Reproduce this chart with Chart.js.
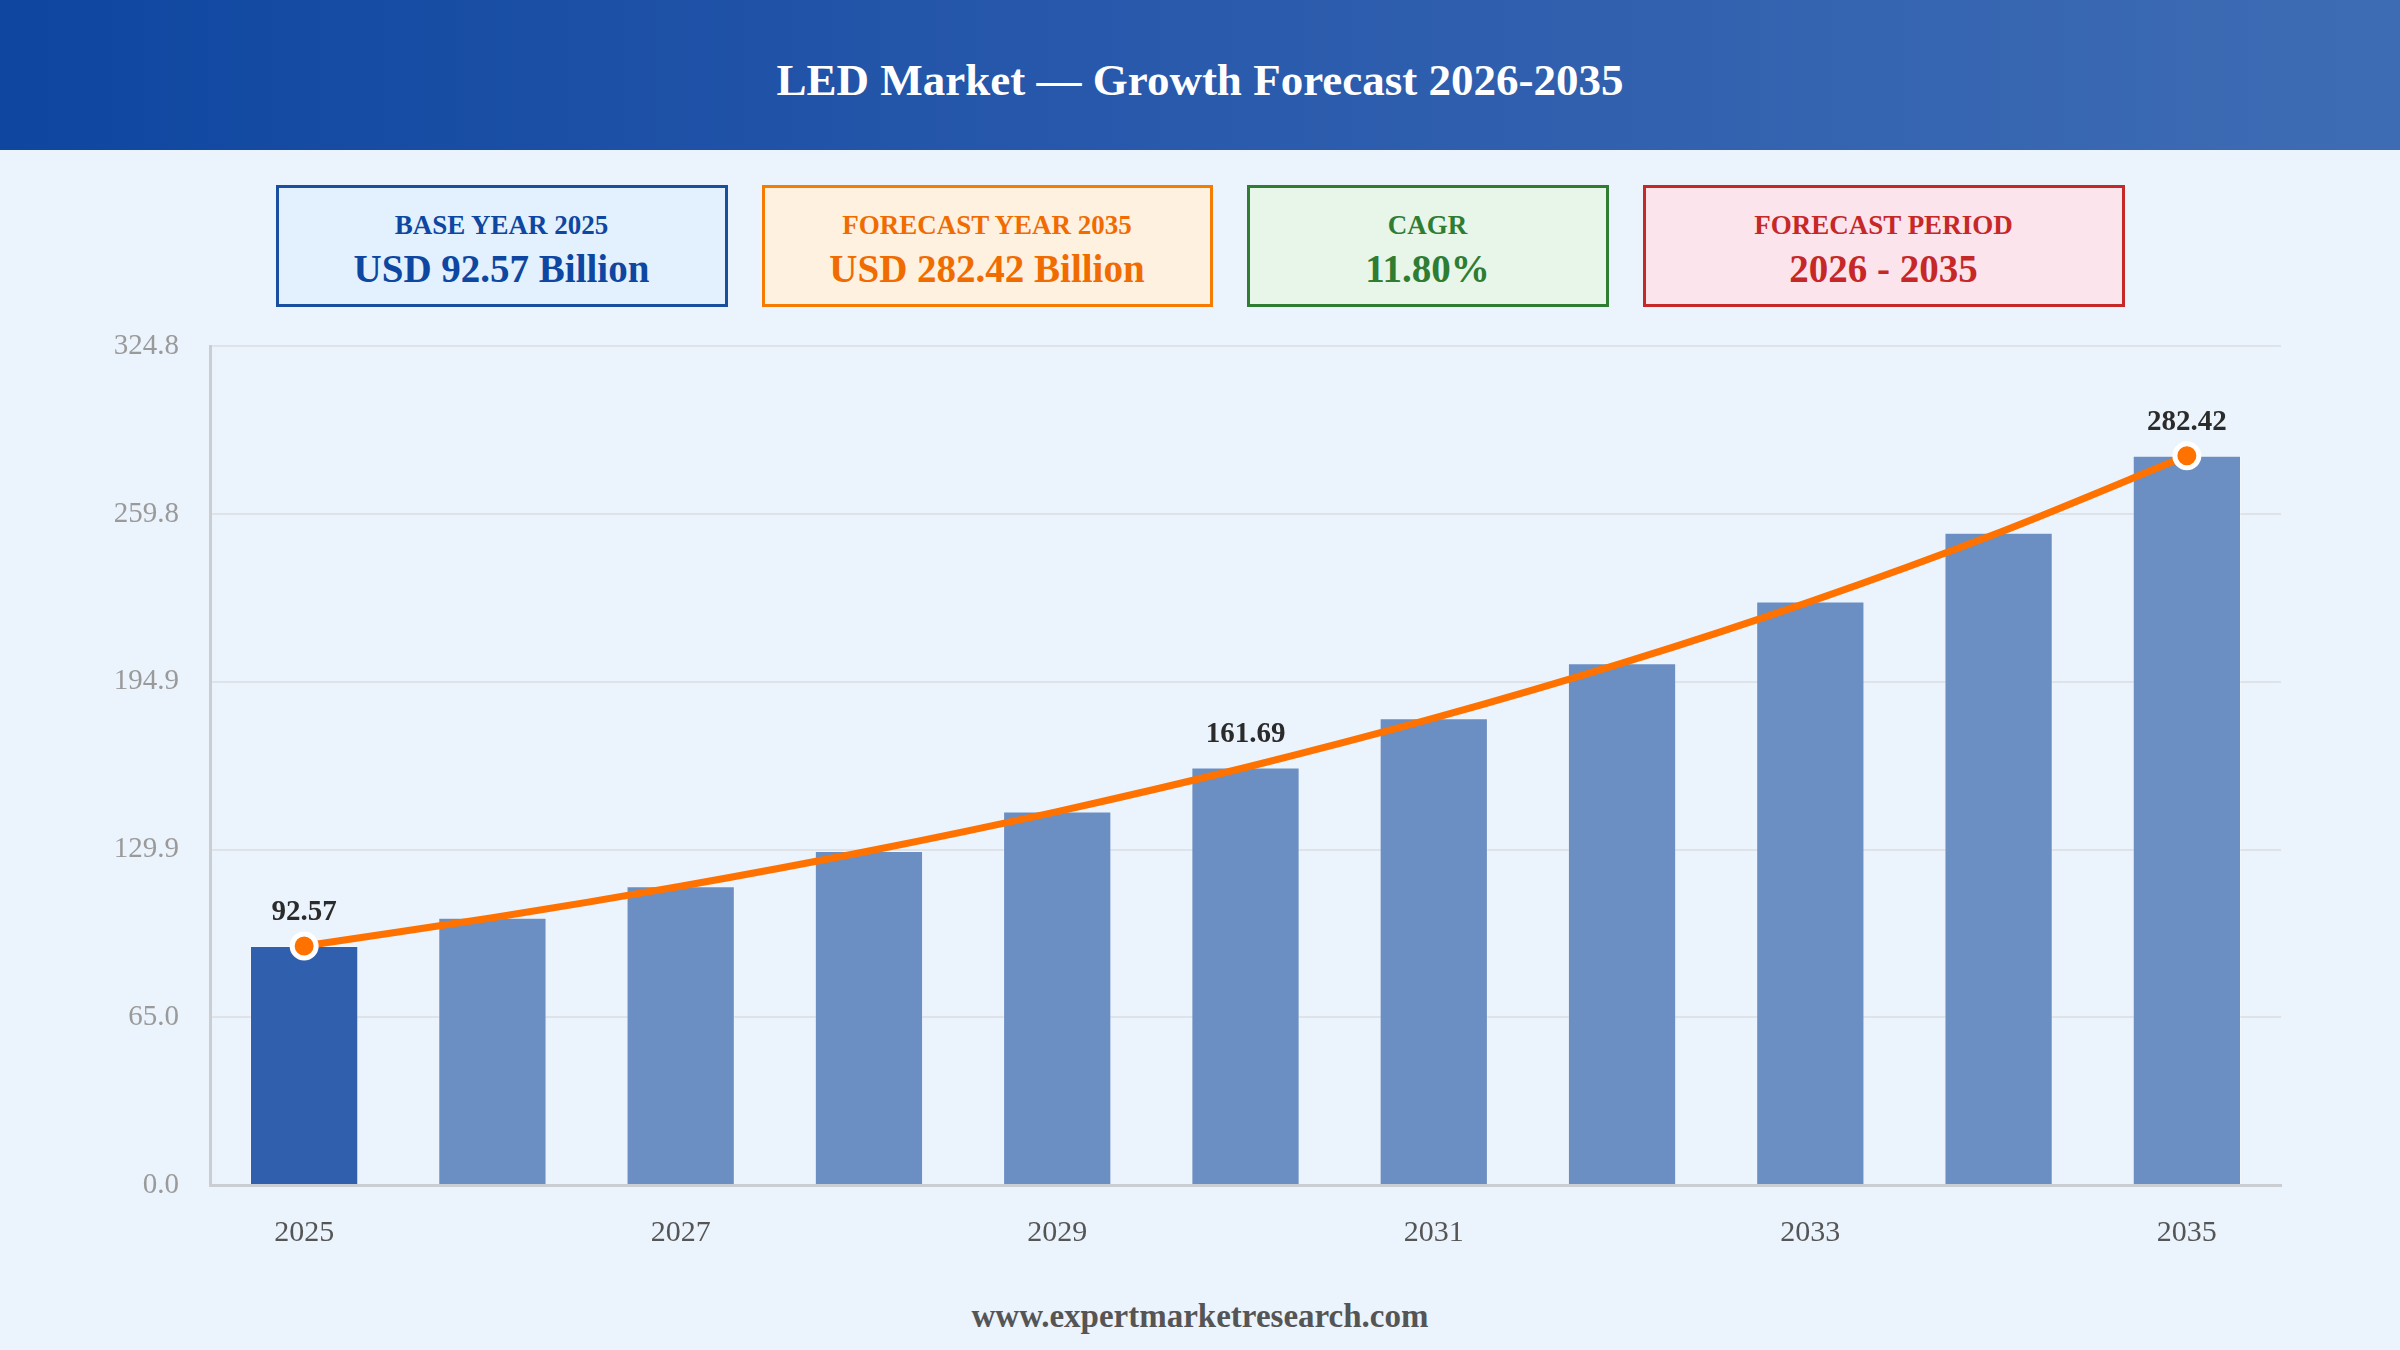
<!DOCTYPE html>
<html>
<head>
<meta charset="utf-8">
<script src="https://cdn.jsdelivr.net/npm/chart.js@4.4.1/dist/chart.umd.min.js"></script>
<style>
  html, body { margin: 0; padding: 0; }
  body {
    width: 2400px; height: 1350px; position: relative; overflow: hidden;
    background: #ebf3fc; font-family: 'Liberation Serif', 'Times New Roman', serif;
  }
  .header {
    position: absolute; left: 0; top: 0; width: 2400px; height: 150px;
    box-sizing: border-box; padding-top: 10px;
    background: linear-gradient(90deg, #0e46a0 0%, #2a5aac 50%, #3e6cb4 100%);
    color: #fff; font-weight: bold; font-size: 45px;
    display: flex; align-items: center; justify-content: center;
  }
  .cards {
    position: absolute; left: 0; top: 185px; width: 2400px; height: 122px;
    display: flex; justify-content: center; gap: 34px;
  }
  .card {
    box-sizing: border-box; height: 122px; border: 3px solid; padding-top: 8px;
    display: flex; flex-direction: column; align-items: center; justify-content: center;
    font-weight: bold;
  }
  .card .lbl { font-size: 27px; line-height: 30px; margin-bottom: 8px; }
  .card .val { font-size: 39px; line-height: 42px; }
  .c1 { width: 452px; border-color: #1a4fa0; background: #e3f0fd; color: #0d47a1; }
  .c2 { width: 451px; border-color: #f57c00; background: #fff1df; color: #f06c00; }
  .c3 { width: 362px; border-color: #2e7d32; background: #e8f5e9; color: #2e7d32; }
  .c4 { width: 482px; border-color: #c62828; background: #fce4ec; color: #c62828; }
  #wrap { position: absolute; left: 0; top: 298px; width: 2400px; height: 982px; }
  .footer {
    position: absolute; left: 0; top: 1296px; width: 2400px; text-align: center;
    font-weight: bold; font-size: 33px; line-height: 40px; color: #555;
  }
</style>
</head>
<body>
<div class="header">LED Market — Growth Forecast 2026-2035</div>
<div class="cards">
  <div class="card c1"><div class="lbl">BASE YEAR 2025</div><div class="val">USD 92.57 Billion</div></div>
  <div class="card c2"><div class="lbl">FORECAST YEAR 2035</div><div class="val">USD 282.42 Billion</div></div>
  <div class="card c3"><div class="lbl">CAGR</div><div class="val">11.80%</div></div>
  <div class="card c4"><div class="lbl">FORECAST PERIOD</div><div class="val">2026 - 2035</div></div>
</div>
<div id="wrap"><canvas id="chart"></canvas></div>
<div class="footer">www.expertmarketresearch.com</div>

<script>
const years = ['2025', '2026', '2027', '2028', '2029', '2030', '2031', '2032', '2033', '2034', '2035'];
const marketSize = [92.57, 103.49, 115.70, 129.36, 144.62, 161.69, 180.77, 202.10, 225.95, 252.61, 282.42];
const yTicks = [0, 64.956, 129.912, 194.868, 259.824, 324.78];
const labelledYears = [0, 5, 10];

const last = marketSize.length - 1;

const valueLabels = {
    id: 'valueLabels',
    afterDatasetsDraw(chart) {
        const ctx = chart.ctx;
        const meta = chart.getDatasetMeta(0);
        const y = chart.scales.y;
        ctx.save();
        ctx.font = 'bold 29px "Liberation Serif", serif';
        ctx.fillStyle = '#2b2b2b';
        ctx.textAlign = 'center';
        ctx.textBaseline = 'middle';
        labelledYears.forEach(i => {
            const px = meta.data[i].x;
            const py = y.getPixelForValue(marketSize[i]) - 33;
            ctx.fillText(marketSize[i].toFixed(2), px, py);
        });
        ctx.restore();
    }
};

const ctx = document.getElementById('chart').getContext('2d');
const chart = new Chart(ctx, {
    type: 'bar',
    data: {
        labels: years,
        datasets: [
            {
                type: 'bar',
                label: 'Market size',
                data: marketSize,
                backgroundColor: marketSize.map((v, i) => i === 0 ? '#2f5fad' : '#6b8ec3'),
                borderColor: 'rgba(255,255,255,0.25)',
                borderWidth: 1,
                barPercentage: 0.575,
                categoryPercentage: 1,
                order: 2
            },
            {
                type: 'line',
                label: 'Trend',
                data: marketSize,
                borderColor: '#ff7200',
                borderWidth: 7,
                tension: 0.3,
                fill: false,
                pointRadius: c => (c.dataIndex === 0 || c.dataIndex === last) ? 12 : 0,
                pointBackgroundColor: '#ff7200',
                pointBorderColor: '#ffffff',
                pointBorderWidth: 5,
                order: 1
            }
        ]
    },
    options: {
        responsive: true,
        maintainAspectRatio: false,
        devicePixelRatio: 1,
        animation: false,
        layout: { padding: { left: 0, right: 119, top: 3, bottom: 0 } },
        plugins: {
            legend: { display: false },
            tooltip: { enabled: false }
        },
        scales: {
            x: {
                grid: { display: false, drawTicks: false },
                border: { display: true, color: '#cacdd2', width: 3 },
                ticks: {
                    autoSkip: false,
                    maxRotation: 0,
                    padding: 30,
                    color: '#555555',
                    font: { family: '"Liberation Serif", serif', size: 30 },
                    callback: (v, i) => i % 2 === 0 ? years[i] : ''
                },
                afterFit: s => { s.height = 95; }
            },
            y: {
                min: 0,
                max: yTicks[yTicks.length - 1],
                afterBuildTicks: s => { s.ticks = yTicks.map(v => ({ value: v })); },
                grid: { color: '#dfe3e8', lineWidth: 2, drawTicks: false },
                border: { display: true, color: '#cacdd2', width: 3 },
                ticks: {
                    padding: 31,
                    color: '#9a9a9a',
                    font: { family: '"Liberation Serif", serif', size: 29 },
                    callback: v => Number(v).toFixed(1)
                },
                afterFit: s => { s.width = 210; }
            }
        }
    },
    plugins: [valueLabels]
});
</script>
</body>
</html>
